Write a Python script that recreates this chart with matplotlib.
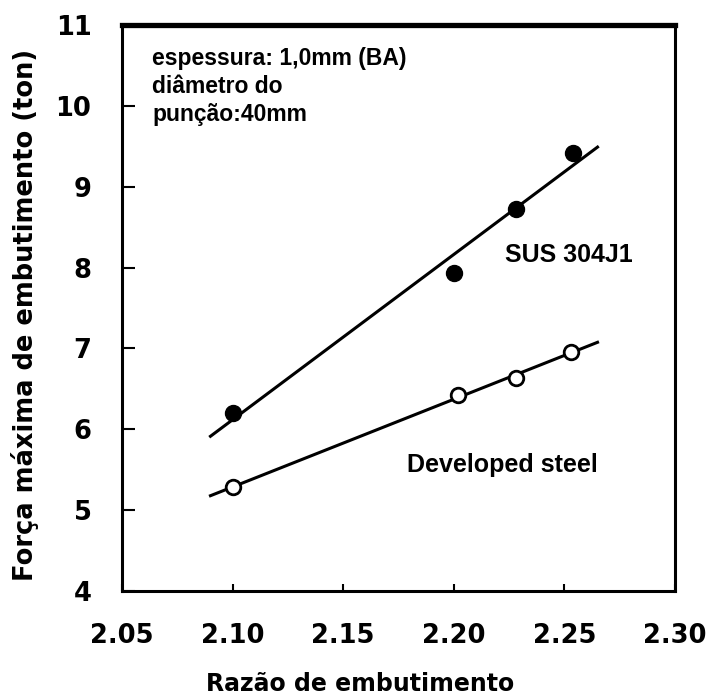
import numpy as np
import matplotlib.pyplot as plt
from matplotlib import font_manager

# drawing ratio vs. maximum drawing force
sus_x = [2.10, 2.20, 2.228, 2.254]
sus_y = [6.2, 7.93, 8.73, 9.42]
dev_x = [2.10, 2.202, 2.228, 2.253]
dev_y = [5.28, 6.43, 6.64, 6.95]
fit_x = [2.09, 2.265]  # extent of the fitted lines

xticks = [2.05, 2.10, 2.15, 2.20, 2.25, 2.30]
xticklabels = ["2.05", "2.10", "2.15", "2.20", "2.25", "2.30"]
yticks = [4, 5, 6, 7, 8, 9, 10, 11]

# tall narrow digits for the tick labels if the narrow face is there
names = {f.name for f in font_manager.fontManager.ttflist}
if "Liberation Sans Narrow" in names:
    tickfont = dict(family="Liberation Sans Narrow", size=24, weight="bold")
else:
    tickfont = dict(family="DejaVu Sans", size=18.5, weight="bold")

fig = plt.figure(figsize=(7.06, 6.96), dpi=100)
ax = fig.add_axes([0.1728, 0.1509, 0.7832, 0.8131])

# least squares lines through each series
for xs, ys in [(sus_x, sus_y), (dev_x, dev_y)]:
    p = np.polyfit(xs, ys, 1)
    ax.plot(fit_x, np.polyval(p, fit_x), color="black", lw=2.2, zorder=2)

ax.plot(sus_x, sus_y, "o", ms=11.5, color="black", zorder=3)
ax.plot(dev_x, dev_y, "o", ms=10.5, mfc="white", mec="black", mew=2, zorder=3)

ax.set_xlim(2.05, 2.30)
ax.set_ylim(4, 11)
ax.set_xticks(xticks)
ax.set_xticklabels(xticklabels, fontdict=tickfont)
ax.set_yticks(yticks)
ax.set_yticklabels([str(v) for v in yticks], fontdict=tickfont)
ax.tick_params(axis="x", direction="in", length=5, width=1.5, pad=23)
ax.tick_params(axis="y", direction="in", length=9, width=1.5, pad=22)

for side in ["left", "bottom", "right"]:
    ax.spines[side].set_linewidth(2.2)
ax.spines["top"].set_linewidth(3.8)

ax.set_xlabel("Razão de embutimento", fontsize=17, fontweight="bold",
              family="DejaVu Sans")
ax.xaxis.set_label_coords(0.43, -0.143)
ax.set_ylabel("Força máxima de embutimento (ton)", fontsize=18.5,
              fontweight="bold", family="DejaVu Sans")
ax.yaxis.set_label_coords(-0.15, 0.488)

ax.text(0.055, 0.962, "espessura: 1,0mm (BA)\ndiâmetro do\npunção:40mm",
        transform=ax.transAxes, ha="left", va="top", fontsize=16.5,
        fontweight="bold", family="Liberation Sans", linespacing=1.3)
ax.text(0.693, 0.594, "SUS 304J1", transform=ax.transAxes, ha="left",
        va="center", fontsize=18, fontweight="bold", family="Liberation Sans")
ax.text(0.515, 0.223, "Developed steel", transform=ax.transAxes, ha="left",
        va="center", fontsize=18, fontweight="bold", family="Liberation Sans")

fig.savefig("out.png", dpi=100)
